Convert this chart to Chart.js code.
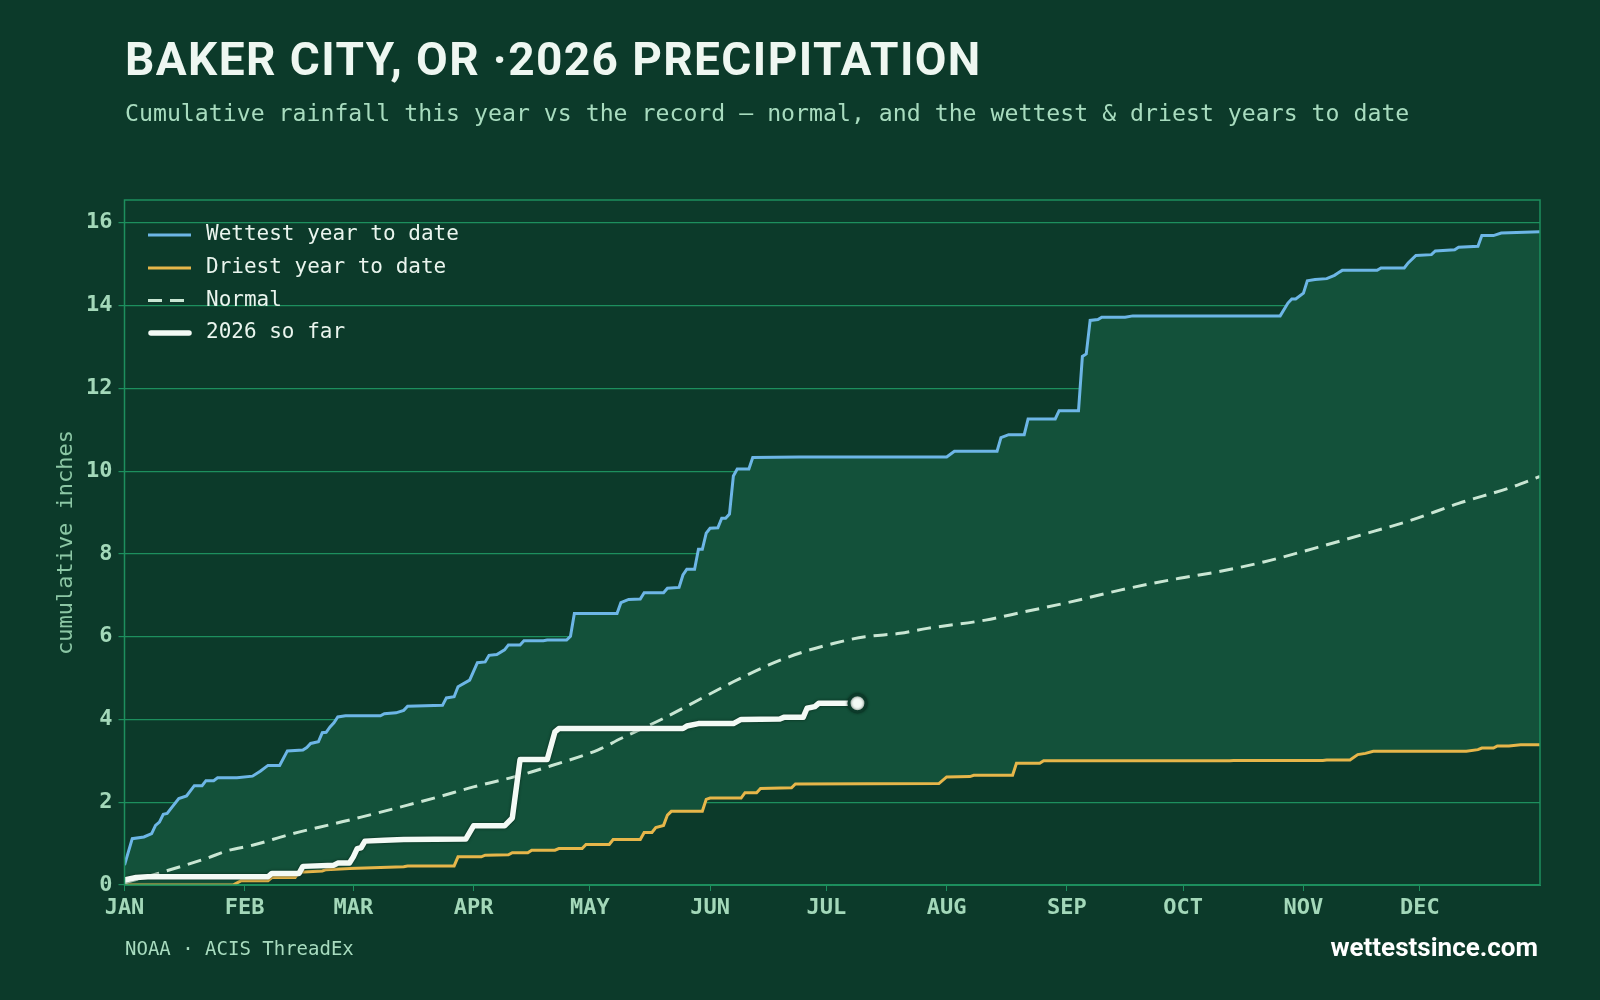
<!DOCTYPE html>
<html>
<head>
<meta charset="utf-8">
<title>Baker City, OR 2026 precipitation</title>
<script src="https://cdn.jsdelivr.net/npm/chart.js@4.4.1/dist/chart.umd.min.js"></script>
<style>
  html, body { margin: 0; padding: 0; background: #0c3a2a; }
  #wrap { width: 1600px; height: 1000px; }
</style>
</head>
<body>
<div id="wrap"><canvas id="precipChart" width="1600" height="1000"></canvas></div>
<script>
// Axis labels
const monthLabels = ['JAN', 'FEB', 'MAR', 'APR', 'MAY', 'JUN', 'JUL', 'AUG', 'SEP', 'OCT', 'NOV', 'DEC'];
const monthStartDays = [0, 31, 59, 90, 120, 151, 181, 212, 243, 273, 304, 334];
const inchTicks = [0, 2, 4, 6, 8, 10, 12, 14, 16];

// Wettest year to date (day of year, cumulative inches)
const wettestDays = [0, 2, 5, 7, 8, 9, 10, 11, 12, 14, 16, 18, 20, 21, 23, 24, 29, 33, 35, 37, 40, 42, 46, 47, 48, 50,
  51, 52, 53, 54, 55, 57, 66, 67, 70, 72, 73, 82, 83, 85, 86, 89, 91, 93, 94, 96, 98, 99, 102, 103, 108, 109, 114,
  115, 116, 127, 128, 130, 133, 134, 139, 140, 143, 144, 145, 147, 148, 149, 150, 151, 153, 154, 155, 156, 157, 158,
  161, 162, 174, 212, 214, 225, 226, 228, 232, 233, 240, 241, 246, 247, 248, 249, 251, 252, 258, 260, 298, 300, 301,
  302, 304, 305, 307, 310, 312, 313, 314, 323, 324, 330, 331, 333, 337, 338, 343, 344, 349, 350, 353, 355, 365];
const wettestInches = [0.48, 1.12, 1.16, 1.24, 1.44, 1.52, 1.71, 1.73, 1.85, 2.09, 2.15, 2.40, 2.40, 2.52, 2.52, 2.59,
  2.59, 2.63, 2.75, 2.89, 2.89, 3.24, 3.26, 3.32, 3.42, 3.46, 3.68, 3.69, 3.82, 3.92, 4.06, 4.09, 4.09, 4.14, 4.16,
  4.22, 4.32, 4.34, 4.52, 4.55, 4.79, 4.95, 5.37, 5.39, 5.55, 5.57, 5.68, 5.80, 5.80, 5.90, 5.90, 5.92, 5.92, 6.01,
  6.56, 6.56, 6.82, 6.90, 6.91, 7.06, 7.06, 7.17, 7.19, 7.49, 7.63, 7.63, 8.11, 8.11, 8.50, 8.62, 8.63, 8.86, 8.86,
  8.96, 9.88, 10.05, 10.05, 10.33, 10.34, 10.34, 10.48, 10.48, 10.81, 10.88, 10.88, 11.26, 11.26, 11.46, 11.46, 12.77,
  12.83, 13.64, 13.66, 13.72, 13.72, 13.75, 13.75, 14.06, 14.16, 14.16, 14.30, 14.60, 14.63, 14.65, 14.73, 14.79,
  14.85, 14.85, 14.91, 14.91, 15.03, 15.21, 15.23, 15.32, 15.35, 15.41, 15.43, 15.69, 15.69, 15.75, 15.78];

// Driest year to date
const driestDays = [0, 28, 30, 37, 38, 44, 45, 51, 52, 58, 72, 73, 85, 86, 92, 93, 99, 100, 104, 105, 111, 112, 118,
  119, 125, 126, 133, 134, 136, 137, 139, 140, 141, 149, 150, 151, 159, 160, 163, 164, 172, 173, 210, 212, 218, 219,
  229, 230, 236, 237, 285, 286, 309, 310, 316, 318, 320, 322, 346, 349, 350, 353, 354, 357, 360, 365];
const driestInches = [0.00, 0.00, 0.10, 0.10, 0.18, 0.18, 0.31, 0.34, 0.37, 0.40, 0.44, 0.46, 0.46, 0.68, 0.68, 0.72,
  0.73, 0.78, 0.78, 0.84, 0.84, 0.88, 0.88, 0.98, 0.98, 1.10, 1.10, 1.27, 1.27, 1.39, 1.44, 1.69, 1.78, 1.78, 2.07,
  2.10, 2.10, 2.23, 2.23, 2.33, 2.35, 2.44, 2.45, 2.61, 2.62, 2.65, 2.65, 2.94, 2.94, 3.00, 3.00, 3.01, 3.01, 3.02,
  3.02, 3.15, 3.18, 3.23, 3.23, 3.27, 3.31, 3.31, 3.36, 3.36, 3.39, 3.39];

// Normal
const normalDays = [0, 9, 21, 27, 33, 43, 54, 61, 73, 81, 90, 97, 102, 110, 122, 128, 138, 148, 157, 166, 174, 183,
  191, 200, 207, 222, 232, 244, 257, 272, 282, 294, 307, 319, 332, 344, 357, 365];
const normalInches = [0.05, 0.29, 0.64, 0.84, 0.96, 1.23, 1.48, 1.64, 1.93, 2.13, 2.37, 2.53, 2.65, 2.88, 3.26, 3.54,
  3.98, 4.47, 4.91, 5.31, 5.60, 5.84, 6.00, 6.08, 6.20, 6.40, 6.60, 6.84, 7.13, 7.41, 7.57, 7.81, 8.14, 8.46, 8.82,
  9.22, 9.59, 9.87];

// 2026 so far
const thisYearDays = [0, 3, 6, 37, 38, 45, 46, 54, 55, 58, 59, 60, 61, 62, 67, 72, 88, 90, 98, 100, 102, 109, 111, 112,
  144, 145, 148, 157, 159, 169, 170, 175, 176, 178, 179, 189];
const thisYearInches = [0.12, 0.18, 0.20, 0.20, 0.28, 0.28, 0.45, 0.48, 0.53, 0.53, 0.68, 0.88, 0.90, 1.06, 1.08, 1.10,
  1.11, 1.43, 1.43, 1.62, 3.03, 3.03, 3.70, 3.78, 3.78, 3.84, 3.90, 3.90, 4.00, 4.01, 4.05, 4.05, 4.27, 4.31, 4.39,
  4.39];

// Colours
const bgColor = '#0c3a2a';
const bandColor = '#13513a';
const gridColor = '#1d8f5e';
const tickTextColor = '#a3d8b9';
const wetColor = '#6db6e6';
const dryColor = '#e6b64a';
const normalColor = '#c9e6d3';
const thisYearColor = '#f3faf5';

const toPoints = (days, vals) => days.map((d, i) => ({ x: d, y: vals[i] }));

// Background, frame, titles, legend
const chromePlugin = {
    id: 'chrome',
    beforeDraw(chart) {
        const { ctx, width, height } = chart;
        ctx.save();
        ctx.fillStyle = bgColor;
        ctx.fillRect(0, 0, width, height);
        ctx.restore();
    },
    beforeDatasetDraw(chart, args) {
        if (args.index === 3) {
            chart.ctx.save();
            chart.ctx.shadowColor = 'rgba(0, 25, 15, 0.7)';
            chart.ctx.shadowBlur = 3;
        }
    },
    afterDatasetDraw(chart, args) {
        if (args.index === 3) chart.ctx.restore();
    },
    afterDraw(chart) {
        const { ctx, chartArea } = chart;
        ctx.save();

        // plot frame
        ctx.strokeStyle = gridColor;
        ctx.lineWidth = 1.5;
        ctx.strokeRect(chartArea.left, chartArea.top, chartArea.right - chartArea.left, chartArea.bottom - chartArea.top);

        // title + subtitle
        ctx.textAlign = 'left';
        ctx.textBaseline = 'alphabetic';
        ctx.fillStyle = '#eef7f1';
        ctx.font = '700 46px Roboto';
        ctx.letterSpacing = '1.4px';
        ctx.fillText('BAKER CITY, OR ·2026 PRECIPITATION', 125, 75);
        ctx.letterSpacing = '0px';
        ctx.fillStyle = '#a8dcbf';
        ctx.font = '23.2px "DejaVu Sans Mono"';
        ctx.fillText('Cumulative rainfall this year vs the record — normal, and the wettest & driest years to date', 125, 121);

        // footer
        ctx.font = '19px "DejaVu Sans Mono"';
        ctx.fillText('NOAA · ACIS ThreadEx', 125, 955);
        ctx.textAlign = 'right';
        ctx.fillStyle = '#ffffff';
        ctx.font = '700 26px Roboto';
        ctx.fillText('wettestsince.com', 1538, 956);

        // legend, inside the plot, top-left
        const rowY = [235, 268, 300.5, 333];
        ctx.textAlign = 'left';
        ctx.textBaseline = 'middle';
        ctx.font = '21px "DejaVu Sans Mono"';
        chart.data.datasets.forEach((ds, i) => {
            const y = rowY[i];
            ctx.save();
            ctx.strokeStyle = ds.borderColor;
            ctx.lineWidth = ds.borderWidth;
            ctx.lineCap = i === 3 ? 'round' : 'butt';
            ctx.setLineDash(ds.borderDash || []);
            ctx.beginPath();
            ctx.moveTo(i === 3 ? 151 : 148, y);
            ctx.lineTo(i === 3 ? 189 : 191, y);
            ctx.stroke();
            ctx.restore();
            ctx.fillStyle = '#eaf5ee';
            ctx.fillText(ds.label, 206, y);
        });

        ctx.restore();
    }
};

const monoBold = { family: '"DejaVu Sans Mono"', size: 22, weight: 'bold' };

new Chart(document.getElementById('precipChart'), {
    type: 'line',
    data: {
        datasets: [
            {
                label: 'Wettest year to date',
                data: toPoints(wettestDays, wettestInches),
                borderColor: wetColor,
                borderWidth: 3,
                backgroundColor: bandColor,
                fill: 1,
                order: 2
            },
            {
                label: 'Driest year to date',
                data: toPoints(driestDays, driestInches),
                borderColor: dryColor,
                borderWidth: 3,
                fill: false,
                order: 3
            },
            {
                label: 'Normal',
                data: toPoints(normalDays, normalInches),
                borderColor: normalColor,
                borderWidth: 3,
                borderDash: [14, 8],
                cubicInterpolationMode: 'monotone',
                fill: false,
                order: 1
            },
            {
                label: '2026 so far',
                data: toPoints(thisYearDays, thisYearInches),
                borderColor: thisYearColor,
                borderWidth: 5.5,
                borderJoinStyle: 'round',
                fill: false,
                order: 0,
                pointRadius: (c) => c.dataIndex === thisYearDays.length - 1 ? 8.5 : 0,
                pointBackgroundColor: thisYearColor,
                pointBorderColor: bgColor,
                pointBorderWidth: 3
            }
        ]
    },
    options: {
        responsive: false,
        animation: false,
        devicePixelRatio: 1,
        layout: { padding: { top: 200, left: 0, right: 60, bottom: 75 } },
        elements: {
            line: { tension: 0 },
            point: { radius: 0, hoverRadius: 0 }
        },
        plugins: {
            legend: { display: false },
            tooltip: { enabled: false },
            filler: { drawTime: 'beforeDatasetsDraw' }
        },
        scales: {
            x: {
                type: 'linear',
                min: 0,
                max: 365,
                afterBuildTicks: (scale) => { scale.ticks = monthStartDays.map(v => ({ value: v })); },
                afterFit: (scale) => { scale.height = 40; },
                ticks: {
                    color: tickTextColor,
                    font: monoBold,
                    padding: 4,
                    maxRotation: 0,
                    autoSkip: false,
                    callback: (v) => monthLabels[monthStartDays.indexOf(v)]
                },
                grid: { drawOnChartArea: false, drawTicks: true, tickLength: 6, color: gridColor },
                border: { display: true, color: gridColor }
            },
            y: {
                min: 0,
                max: 16.55,
                afterBuildTicks: (scale) => { scale.ticks = inchTicks.map(v => ({ value: v })); },
                afterFit: (scale) => { scale.width = 124.5; },
                ticks: { color: tickTextColor, font: monoBold, padding: 6 },
                grid: { color: gridColor, lineWidth: 1.2, tickLength: 6 },
                border: { display: true, color: gridColor },
                title: {
                    display: true,
                    text: 'cumulative inches',
                    color: '#8cc7a5',
                    font: { family: '"DejaVu Sans Mono"', size: 22 },
                    padding: { top: 53, bottom: 0 }
                }
            }
        }
    },
    plugins: [chromePlugin]
});
</script>
</body>
</html>
